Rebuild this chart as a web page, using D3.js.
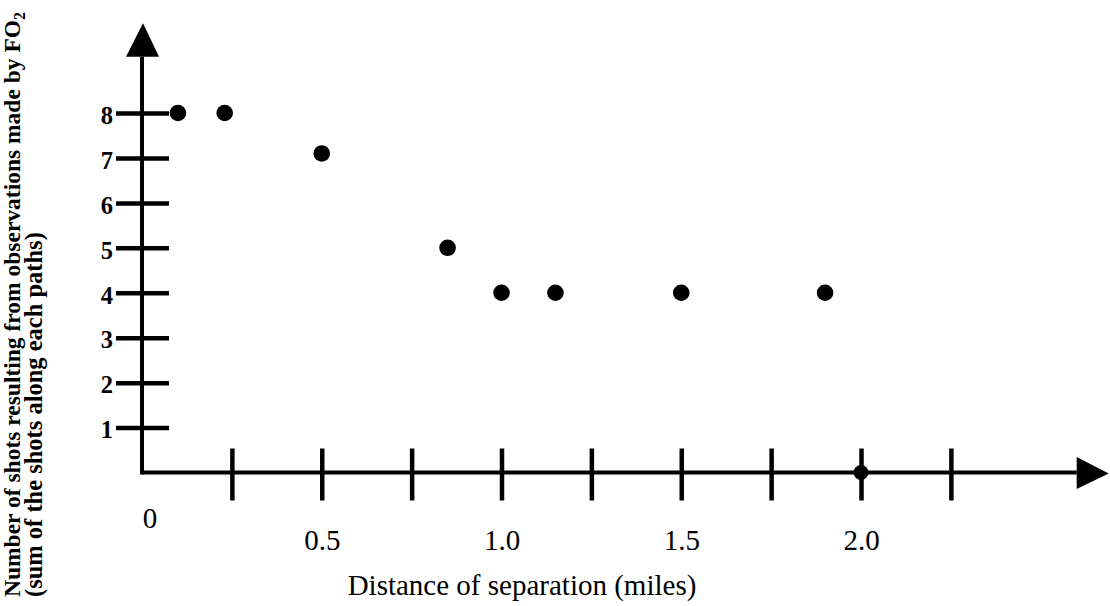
<!DOCTYPE html>
<html>
<head>
<meta charset="utf-8">
<script src="https://cdn.jsdelivr.net/npm/d3@7"></script>
<style>
  html, body { margin: 0; padding: 0; background: #fff; }
  svg { display: block; }
  text { font-family: "Liberation Serif", "Times New Roman", serif; fill: #000; }
</style>
</head>
<body>
<svg id="chart" width="1110" height="606"></svg>
<script>
// ---- data ----
const distances = [0.1, 0.23, 0.5, 0.85, 1.0, 1.15, 1.5, 1.9, 2.0];
const shots     = [8, 8, 7.1, 5, 4, 4, 4, 4, 0];
const xTickValues = [0.25, 0.5, 0.75, 1.0, 1.25, 1.5, 1.75, 2.0, 2.25];
const xTickLabels = ["", "0.5", "", "1.0", "", "1.5", "", "2.0", ""];
const yTickValues = [1, 2, 3, 4, 5, 6, 7, 8];
const originLabel = "0";
const xTitle = "Distance of separation (miles)";
const yTitle1 = "Number of shots resulting from observations made by FO";
const yTitle1Sub = "2";
const yTitle2 = "(sum of the shots along each paths)";

const svg = d3.select("#chart");
const x = d3.scaleLinear().domain([0, 2]).range([142, 861]);
const y = d3.scaleLinear().domain([0, 8]).range([472.5, 113]);
const y0 = y(0), x0 = x(0);

// axis lines
svg.append("line").attr("x1", x0).attr("x2", x(2.6)).attr("y1", y0).attr("y2", y0)
  .attr("stroke", "#000").attr("stroke-width", 4);
svg.append("line").attr("x1", x0).attr("x2", x0).attr("y1", y0 + 2).attr("y2", y(9.25))
  .attr("stroke", "#000").attr("stroke-width", 4);
// arrow heads
svg.append("path")
  .attr("d", `M${x(2.6)},${y0 - 15.5} L${x(2.6) + 32},${y0 + 1} L${x(2.6)},${y0 + 16.5} Z`)
  .attr("fill", "#000");
svg.append("path")
  .attr("d", `M${x0 - 16},${y(9.25)} L${x0 + 1},${y(10)} L${x0 + 17},${y(9.25)} Z`)
  .attr("fill", "#000");

// x axis
const xAxis = d3.axisBottom(x).tickValues(xTickValues).tickSize(28).tickPadding(0)
  .tickFormat((d, i) => xTickLabels[i]);
const gx = svg.append("g").attr("transform", `translate(0,${y0})`).call(xAxis);
gx.select(".domain").remove();
gx.selectAll(".tick line").attr("y1", -24).attr("y2", 28).attr("stroke", "#000").attr("stroke-width", 4.5);
gx.selectAll(".tick text").attr("y", 77.5).attr("dy", null)
  .style("font-size", "29px").style("font-family", "'Liberation Serif', serif");

// y axis
const yAxis = d3.axisLeft(y).tickValues(yTickValues).tickSize(26).tickPadding(3).tickFormat(d3.format("d"));
const gy = svg.append("g").attr("transform", `translate(${x0},0)`).call(yAxis);
gy.select(".domain").remove();
gy.selectAll(".tick line").attr("x1", 27).attr("x2", -26).attr("stroke", "#000").attr("stroke-width", 4.5);
gy.selectAll(".tick text").attr("dy", "0.42em")
  .style("font-size", "24.5px").style("font-weight", "bold").style("font-family", "'Liberation Serif', serif");

// origin label
svg.append("text").attr("x", x0 + 8).attr("y", 528).attr("text-anchor", "middle")
  .style("font-size", "29px").text(originLabel);

// points
const pts = distances.map((d, i) => ({ d, s: shots[i] }));
svg.append("g").selectAll("circle").data(pts).join("circle")
  .attr("cx", p => x(p.d)).attr("cy", p => y(p.s))
  .attr("r", p => p.s === 0 ? 7.5 : 8.3).attr("fill", "#000");

// titles
svg.append("text").attr("x", 522).attr("y", 595).attr("text-anchor", "middle")
  .style("font-size", "29px").text(xTitle);

const t1 = svg.append("text").attr("transform", "translate(20,597) rotate(-90)")
  .style("font-size", "23.5px").style("font-weight", "bold");
t1.append("tspan").text(yTitle1);
t1.append("tspan").attr("dy", 5).style("font-size", "16px").text(yTitle1Sub);

svg.append("text").attr("transform", "translate(42,597) rotate(-90)")
  .style("font-size", "24.5px").style("font-weight", "bold").text(yTitle2);
</script>
</body>
</html>
